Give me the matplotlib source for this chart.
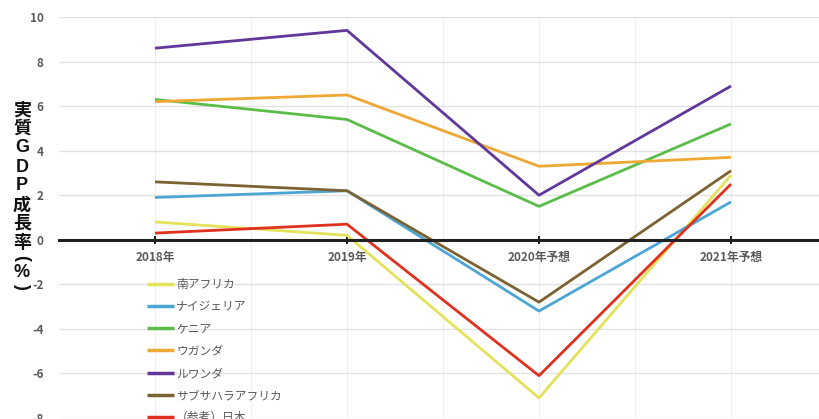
import matplotlib
matplotlib.use("Agg")
import matplotlib.pyplot as plt
from matplotlib.ticker import MultipleLocator

plt.rcParams['font.family'] = ['Noto Sans CJK JP', 'DejaVu Sans']
plt.rcParams['axes.unicode_minus'] = False

# 実質GDP成長率（%）
years = ['2018年', '2019年', '2020年予想', '2021年予想']
south_africa = [0.8, 0.2, -7.1, 2.9]
nigeria = [1.9, 2.2, -3.2, 1.7]
kenya = [6.3, 5.4, 1.5, 5.2]
uganda = [6.2, 6.5, 3.3, 3.7]
rwanda = [8.6, 9.4, 2.0, 6.9]
ssa = [2.6, 2.2, -2.8, 3.1]
japan = [0.3, 0.7, -6.1, 2.5]

series = [
    ('南アフリカ', south_africa, '#e4e25a'),
    ('ナイジェリア', nigeria, '#4ba6d6'),
    ('ケニア', kenya, '#5cbc48'),
    ('ウガンダ', uganda, '#eea834'),
    ('ルワンダ', rwanda, '#61379a'),
    ('サブサハラアフリカ', ssa, '#7b6232'),
    ('（参考）日本', japan, '#e0301e'),
]

fig = plt.figure(figsize=(8.19, 4.19), dpi=100)
W, H = 819, 419
# plot area: x from -0.5 to 3.5, y from -8 to 10
ax = fig.add_axes([59 / W, 1 - 418 / H, 768 / W, 401 / H])

x = list(range(len(years)))
for name, vals, col in series:
    ax.plot(x, vals, color=col, lw=2.0, label=name, solid_capstyle='butt')

ax.set_xlim(-0.5, 3.5)
ax.set_ylim(-8, 10)
ax.yaxis.set_major_locator(MultipleLocator(2))
ax.set_xticks(x)
ax.set_xticklabels(years)
ax.set_xticks([i + 0.5 for i in range(0, 4)], minor=True)

ax.grid(True, which='major', axis='y', color='#e2e2e2', lw=1.0)
ax.grid(True, which='both', axis='x', color='#f0f0f0', lw=1.0)
ax.set_axisbelow(True)

for s in ['top', 'right', 'left']:
    ax.spines[s].set_visible(False)
ax.spines['bottom'].set_position(('data', 0))
ax.spines['bottom'].set_color('#222222')
ax.spines['bottom'].set_linewidth(2.2)
ax.spines['bottom'].set_zorder(5)

ax.tick_params(axis='x', which='major', direction='inout', length=6, width=1.5,
               color='#222222', pad=5, labelsize=8.5, labelcolor='#5a5a5a')
ax.tick_params(axis='x', which='minor', length=0)
ax.tick_params(axis='y', length=0, pad=11, labelsize=8.5, labelcolor='#5a5a5a')
for lbl in ax.get_xticklabels() + ax.get_yticklabels():
    lbl.set_fontweight('bold')

# vertical axis title, one character per line (upright, stacked);
# the brackets are turned sideways as in vertical writing
title_chars = ['実', '質', 'G', 'D', 'P', '成', '長', '率', '(', '%', ')']
char_y = [110, 128, 148, 167, 185, 205, 223, 242, 258, 272, 286]
for ch, yy in zip(title_chars, char_y):
    latin = ch in 'GDP%()'
    fam = ['Liberation Sans', 'Noto Sans CJK JP'] if latin else ['Noto Sans CJK JP']
    rot = -90 if ch in '()' else 0
    fig.text(22 / W, 1 - yy / H, ch, ha='center', va='center', fontsize=13,
             fontweight='bold', color='#111111', family=fam, rotation=rot,
             rotation_mode='anchor')

leg = fig.legend(loc='upper left', bbox_to_anchor=(147 / W, 1 - 278 / H),
                 frameon=False, fontsize=8.5, handlelength=2.3, handletextpad=0.15,
                 labelspacing=0.78, borderpad=0, borderaxespad=0)
for t in leg.get_texts():
    t.set_color('#5a5a5a')
for h in leg.legend_handles:
    h.set_linewidth(2.5)

fig.savefig('out.png', dpi=100)
